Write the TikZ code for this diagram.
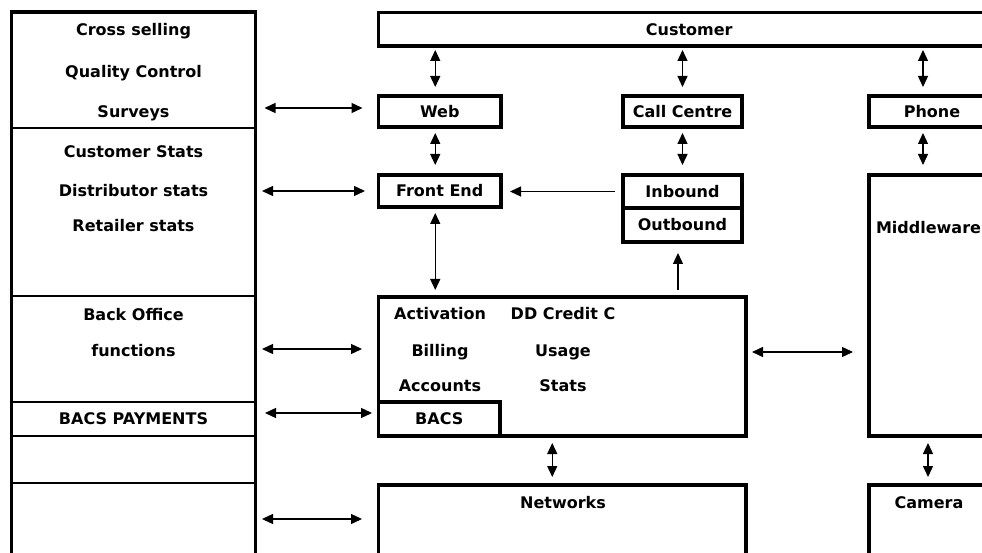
\documentclass[tikz,border=0pt]{standalone}
\usepackage{fontspec}
\setmainfont{DejaVu Sans}
\usepackage{tikz}
\usetikzlibrary{arrows.meta, positioning}

\begin{document}
\begin{tikzpicture}[x=1pt, y=-1pt, every node/.style={font=\fontsize{16}{19}\selectfont\bfseries, text height=11.6pt, text depth=0pt, inner sep=0pt, outer sep=0pt}]
  \tikzstyle{box}=[rectangle, draw=black, line width=3.5pt, fill=white]
  \tikzstyle{row}=[rectangle, draw=black, line width=2.2pt, minimum width=244pt]
  \tikzstyle{both}=[{Triangle[length=11pt,width=10pt]}-{Triangle[length=11pt,width=10pt]}, line width=1.3pt]
  \tikzstyle{one}=[-{Triangle[length=11pt,width=10pt]}, line width=1.3pt]

  \clip (0,0) rectangle (982,553);
  \fill[white] (0,0) rectangle (982,553);

  % left column
  \node[row, minimum height=116pt] (lsales) at (133.5,70) {};
  \node[row, minimum height=168pt] (lstats) at (133.5,212) {};
  \node[row, minimum height=106pt] (lback) at (133.5,349) {};
  \node[row, minimum height=34pt] (lbacs) at (133.5,419) {BACS PAYMENTS};
  \node[row, minimum height=47pt] (lblank) at (133.5,459.5) {};
  \node[row, minimum height=117pt] (lblankb) at (133.5,541.5) {};
  \draw[line width=3.5pt] (lsales.north west) rectangle (lblankb.south east);

  \node (cross) at (133.5,30) {Cross selling};
  \node (quality) at (133.5,72) {Quality Control};
  \node (surveys) at (133.5,112) {Surveys};
  \node (custstats) at (133.5,152) {Customer Stats};
  \node (diststats) at (133.5,191) {Distributor stats};
  \node (retstats) at (133.5,226) {Retailer stats};
  \node (backtxt) at (133.5,315) {Back Office};
  \node (functxt) at (133.5,351) {functions};

  % channels
  \node[box, minimum width=621.5pt, minimum height=33.5pt] (customer) at (689.25,29.25) {Customer};
  \node[box, minimum width=122.5pt, minimum height=31pt] (web) at (439.75,111.5) {Web};
  \node[box, minimum width=119pt, minimum height=31pt] (callc) at (682.5,111.5) {Call Centre};
  \node[box, minimum width=126pt, minimum height=31pt] (phone) at (932,111.5) {Phone};
  \node[box, minimum width=122.5pt, minimum height=32pt] (frontend) at (439.75,191) {Front End};
  \node[box, minimum width=119pt, minimum height=33pt] (inbound) at (682.5,191.5) {Inbound};
  \node[box, minimum width=119pt, minimum height=34pt, below=0pt of inbound] (outbound) {Outbound};
  \node[box, minimum width=126pt, minimum height=261pt] (middleware) at (932,305.5) {};
  \node[anchor=east] (midtxt) at (981,228) {Middleware};

  % back office systems
  \node[box, minimum width=367.5pt, minimum height=139pt] (backoffice) at (562.25,366.5) {};
  \node (activation) at (440,314) {Activation};
  \node (ddcredit) at (563,314) {DD Credit C};
  \node (billing) at (440,351) {Billing};
  \node (usage) at (563,351) {Usage};
  \node (accounts) at (440,386) {Accounts};
  \node (usestats) at (563,386) {Stats};
  \node[box, minimum width=121.5pt, minimum height=34pt] (bacs) at (439.25,419) {BACS};
  \node[box, minimum width=367.5pt, minimum height=115pt] (networks) at (562.25,542.5) {};
  \node (nettxt) at (563,503) {Networks};
  \node[box, minimum width=126pt, minimum height=115pt] (camera) at (932,542.5) {};
  \node (camtxt) at (929,503) {Camera};

  % links to the left column
  \draw[both, shorten <=9pt, shorten >=16pt] ([yshift=3.5pt]lsales.east |- web.west) -- ([yshift=3.5pt]web.west);
  \draw[both, shorten <=6.5pt, shorten >=13.5pt] (lstats.east |- frontend.west) -- (frontend.west);
  \draw[both, shorten <=6.5pt, shorten >=16.5pt] (lback.east) -- (lback.east -| backoffice.west);
  \draw[both, shorten <=9.5pt, shorten >=6.5pt] ([yshift=6pt]lbacs.east) -- ([yshift=6pt]bacs.west);
  \draw[both, shorten <=6.5pt, shorten >=16.5pt] ([yshift=22.5pt]lblankb.east) -- ([yshift=22.5pt]lblankb.east -| networks.west);

  % vertical links
  \draw[both, shorten <=4pt, shorten >=9pt] ([xshift=-4.5pt]web.north |- customer.south) -- ([xshift=-4.5pt]web.north);
  \draw[both, shorten <=4pt, shorten >=9pt] (callc.north |- customer.south) -- (callc.north);
  \draw[both, shorten <=4pt, shorten >=9pt] ([xshift=-9pt]phone.north |- customer.south) -- ([xshift=-9pt]phone.north);
  \draw[both, shorten <=6pt, shorten >=10pt] ([xshift=-4.5pt]web.south) -- ([xshift=-4.5pt]frontend.north);
  \draw[both, shorten <=6pt, shorten >=10pt] (callc.south) -- (inbound.north);
  \draw[both, shorten <=6pt, shorten >=10pt] ([xshift=-9pt]phone.south) -- ([xshift=-9pt]middleware.north);
  \draw[one, shorten <=8pt, shorten >=9pt] (inbound.west) -- (inbound.west -| frontend.east);
  \draw[both, shorten <=6pt, shorten >=7pt] ([xshift=-4.5pt]frontend.south) -- ([xshift=-4.5pt]frontend.south |- backoffice.north);
  \draw[one, shorten <=7pt, shorten >=11pt] ([xshift=-4.5pt]outbound.south |- backoffice.north) -- ([xshift=-4.5pt]outbound.south);
  \draw[both, shorten <=6pt, shorten >=16pt] ([yshift=14.5pt]backoffice.east) -- ([yshift=14.5pt]backoffice.east -| middleware.west);
  \draw[both, shorten <=7pt, shorten >=8pt] ([xshift=-10pt]networks.north |- backoffice.south) -- ([xshift=-10pt]networks.north);
  \draw[both, shorten <=7pt, shorten >=8pt] ([xshift=-4pt]camera.north |- middleware.south) -- ([xshift=-4pt]camera.north);
\end{tikzpicture}
\end{document}
